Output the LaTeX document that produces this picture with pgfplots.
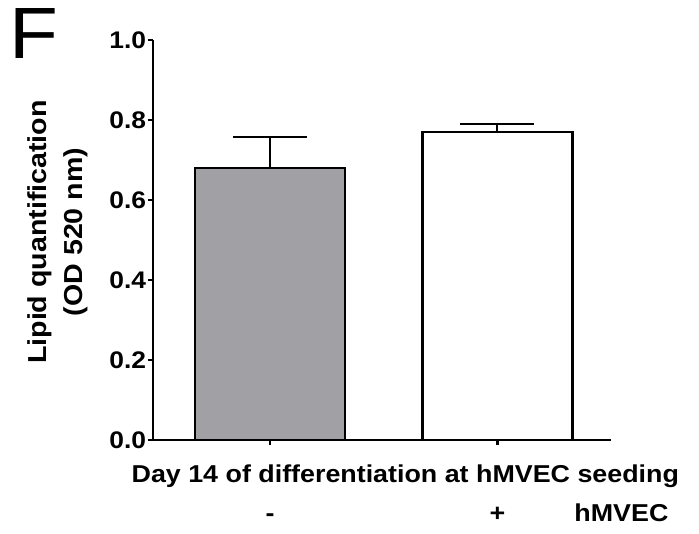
\documentclass[border=0pt]{standalone}
\usepackage{fontspec}
\setmainfont[FakeStretch=1.1]{Liberation Sans}
\usepackage{pgfplots}
\pgfplotsset{compat=1.18}
\usetikzlibrary{calc}
\definecolor{bargray}{RGB}{161,160,165}

\begin{document}
\begin{tikzpicture}
  % page frame, in px*0.75 measured from the axis corner
  \path[use as bounding box] (-114.75pt,-69.75pt) rectangle (409.5pt,330pt);
  \begin{axis}[
    at={(0,0)}, anchor=south west,
    scale only axis,
    width=343.5pt, height=300pt,
    xmin=-0.515, xmax=1.5,
    ymin=0, ymax=1,
    axis lines=left,
    axis line style={-, line width=2pt},
    tick align=outside,
    major tick length=4pt,
    tick style={line width=2pt, black},
    xtick={0,1}, xticklabels=\empty,
    ytick={0,0.2,0.4,0.6,0.8,1.0},
    yticklabel style={/pgf/number format/fixed, /pgf/number format/fixed zerofill,
      /pgf/number format/precision=1, font=\fontsize{18}{22}\selectfont\bfseries,
      inner xsep=1pt},
    /pgf/number format/assume math mode=true,
    clip=false,
    ybar, bar width=0.66, bar shift=0pt,
  ]
    \addplot[draw=black, line width=2pt, fill=bargray,
      error bars/.cd, y dir=plus, y explicit,
      error bar style={line width=1.5pt, black},
      error mark options={rotate=90, mark size=27.75pt, line width=1.5pt, black}]
      coordinates {(0,0.68) +- (0,0.078)};
    \addplot[draw=black, line width=2pt, fill=white,
      error bars/.cd, y dir=plus, y explicit,
      error bar style={line width=1.5pt, black},
      error mark options={rotate=90, mark size=27.75pt, line width=1.5pt, black}]
      coordinates {(1,0.77) +- (0,0.02)};

    \node[anchor=base, font=\fontsize{18.3}{22}\selectfont\bfseries]
      at ($(axis cs:0.595,0)+(0pt,-31.5pt)$) {Day 14 of differentiation at hMVEC seeding};
    \node[anchor=base, font=\fontsize{18.3}{22}\selectfont\bfseries]
      at ($(axis cs:0,0)+(0pt,-60.75pt)$) {-};
    \node[anchor=base, font=\fontsize{18.3}{22}\selectfont\bfseries]
      at ($(axis cs:1,0)+(0pt,-60.75pt)$) {+};
    \node[anchor=base, font=\fontsize{18.3}{22}\selectfont\bfseries]
      at ($(axis cs:1.546,0)+(0pt,-60.75pt)$) {hMVEC};
    \node[rotate=90, align=center, font=\fontsize{19.5}{27}\selectfont\bfseries]
      at ($(rel axis cs:0,0.5)+(-71.25pt,6pt)$) {Lipid quantification\\(OD 520 nm)};
  \end{axis}
  \node[font=\fontsize{54.5}{55}\selectfont] at (-89.25pt,304.5pt) {F};
\end{tikzpicture}
\end{document}
